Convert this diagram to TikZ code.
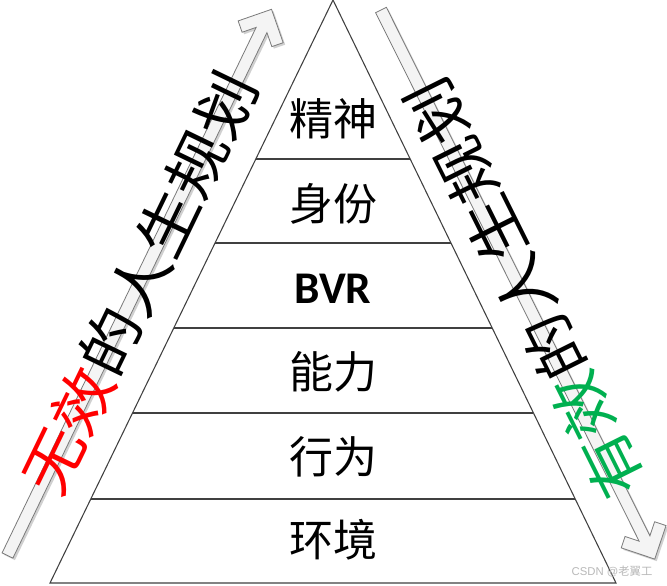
\documentclass[tikz,border=0pt]{standalone}
\usepackage{fontspec}
\usepackage{graphicx}
\setmainfont{Liberation Serif}
\newfontfamily\cjk{Noto Sans CJK SC}
\newfontfamily\calib{Carlito}
\newfontfamily\wmfont{Liberation Sans}
\usetikzlibrary{calc}
\definecolor{edgegray}{HTML}{404040}
\definecolor{arrowfill}{HTML}{F4F4F4}
\definecolor{arrowedge}{HTML}{7A7A7A}
\definecolor{shadowgray}{HTML}{D0D0D0}
\definecolor{effred}{HTML}{FF0000}
\definecolor{effgreen}{HTML}{00B050}
\tikzset{
  pics/blockarrow/.style={code={
    \path[pic actions] (0,-6) -- ({#1-23},-6) -- ({#1-33.5},-16.5) -- ({#1-25},-25)
      -- (#1,0) -- ({#1-25},25) -- ({#1-33.5},16.5) -- ({#1-23},6) -- (0,6) -- cycle;
  }},
  tierline/.style={draw=edgegray, line width=0.8pt},
  tierlabel/.style={font=\cjk\fontsize{33}{36}\selectfont, inner sep=0pt, text=black},
  sidetext/.style={font=\cjk\fontsize{44}{48}\selectfont, inner sep=0pt, text=black},
}
\begin{document}
\begin{tikzpicture}[x=0.75pt,y=-0.75pt]
\useasboundingbox[fill=white] (0,0) rectangle (667,585);

% ---- side arrows ----
\coordinate (LT) at (7.5,555.5);
\coordinate (LA) at (271.7,9.3);
\coordinate (RT) at (381,10);
\coordinate (RA) at (655,559);

\pic[fill=shadowgray, rotate=64.2] at (9.5,557.5) {blockarrow=606.7};
\pic[fill=arrowfill, draw=arrowedge, line width=0.6pt, rotate=64.2] at (LT) {blockarrow=606.7};
\pic[fill=shadowgray, rotate=-63.5] at (383,12) {blockarrow=613.6};
\pic[fill=arrowfill, draw=arrowedge, line width=0.6pt, rotate=-63.5] at (RT) {blockarrow=613.6};

% ---- pyramid ----
\coordinate (A) at (333,0);
\coordinate (BL) at (50,583);
\coordinate (BR) at (616,583);
\draw[tierline, line join=miter] (A) -- (BL) -- (BR) -- cycle;
\foreach \f [count=\i] in {0.2727,0.4168,0.5626,0.7084,0.8559}{
  \coordinate (L\i) at ($(A)!\f!(BL)$);
  \coordinate (R\i) at ($(A)!\f!(BR)$);
  \draw[tierline] (L\i) -- (R\i);
}

\node[tierlabel] (t1) at (333,119) {精神};
\node[tierlabel] (t2) at (333,204) {身份};
\node[tierlabel, font=\calib\bfseries\fontsize{34}{38}\selectfont] (t3) at (333,289) {BVR};
\node[tierlabel] (t4) at (333,372) {能力};
\node[tierlabel] (t5) at (333,457) {行为};
\node[tierlabel] (t6) at (333,540) {环境};

% ---- side texts ----
\node[sidetext, rotate=64.2] (lt) at ($(LT)!0.5!(LA)$)
  {\scalebox{1.12}[1]{\textcolor{effred}{无效}的人生规划}};
\node[sidetext, rotate=116.5] (rt) at ($(RT)!0.51!(RA) + (3.6,-1.8)$)
  {\scalebox{1.12}[1]{\textcolor{effgreen}{有效}的人生规划}};

% ---- watermark ----
\node[inner sep=0pt, text=gray!55, font=\wmfont\fontsize{8.5}{10}\selectfont] (wm) at (612,572)
  {CSDN @{\cjk 老翼工}};
\end{tikzpicture}
\end{document}
